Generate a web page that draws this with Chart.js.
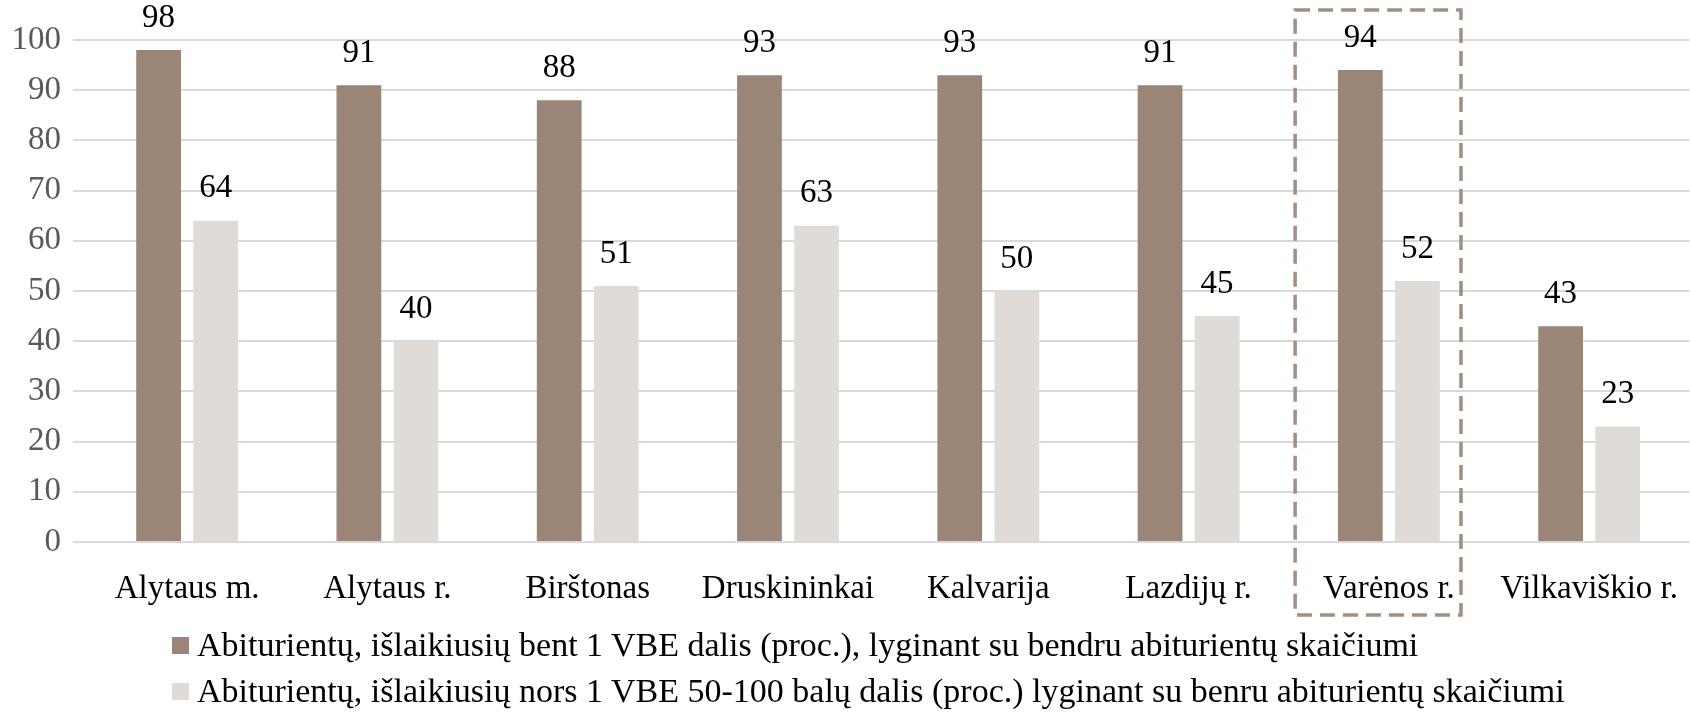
<!DOCTYPE html>
<html>
<head>
<meta charset="utf-8">
<script src="https://cdn.jsdelivr.net/npm/chart.js@4/dist/chart.umd.min.js"></script>
<style>
  html, body { margin: 0; padding: 0; background: #fff; }
  #wrap { position: relative; width: 1690px; height: 715px; overflow: hidden; }
  #plot { position: absolute; left: 0; top: 0; width: 1698px; height: 715px; }
  #legend { position: absolute; left: 172px; top: 622px; font-family: "Liberation Serif", serif; font-size: 34px; color: #000; }
  .row { height: 46px; display: flex; align-items: center; white-space: nowrap; }
  .box { width: 17px; height: 17px; margin-right: 8px; }
</style>
</head>
<body>
<div id="wrap">
  <div id="plot"><canvas id="chart"></canvas></div>
  <div id="legend"></div>
</div>
<script>
// chart data
const categories = ['Alytaus m.', 'Alytaus r.', 'Birštonas', 'Druskininkai', 'Kalvarija', 'Lazdijų r.', 'Varėnos r.', 'Vilkaviškio r.'];
const passedAny = [98, 91, 88, 93, 93, 91, 94, 43];
const passed50to100 = [64, 40, 51, 63, 50, 45, 52, 23];
const seriesNames = [
  'Abiturientų, išlaikiusių bent 1 VBE dalis (proc.), lyginant su bendru abiturientų skaičiumi',
  'Abiturientų, išlaikiusių nors 1 VBE 50-100 balų dalis (proc.) lyginant su benru abiturientų skaičiumi'
];
const yTicks = [0, 10, 20, 30, 40, 50, 60, 70, 80, 90, 100];
const highlightIndex = 6; // Varėnos r.

const colors = ['#9B8577', '#E0DBD7'];
const fontFamily = '"Liberation Serif", serif';

// value labels above every bar
const valueLabels = {
  id: 'valueLabels',
  afterDatasetsDraw(chart) {
    const ctx = chart.ctx;
    ctx.save();
    ctx.font = '33px ' + fontFamily;
    ctx.fillStyle = '#000';
    ctx.textAlign = 'center';
    ctx.textBaseline = 'middle';
    chart.data.datasets.forEach((ds, i) => {
      chart.getDatasetMeta(i).data.forEach((bar, j) => {
        ctx.fillText(ds.data[j], bar.x, bar.y - 32);
      });
    });
    ctx.restore();
  }
};

// dashed frame round the highlighted district
const highlightBox = {
  id: 'highlightBox',
  afterDraw(chart) {
    const x = chart.scales.x, y = chart.scales.y;
    const cx = x.getPixelForValue(highlightIndex);
    const cw = x.getPixelForValue(1) - x.getPixelForValue(0);
    const left = cx - 0.468 * cw;
    const right = cx + 0.36 * cw;
    const top = y.getPixelForValue(106);
    const bottom = chart.chartArea.bottom + 73;
    const ctx = chart.ctx;
    ctx.save();
    ctx.strokeStyle = '#A38E80';
    ctx.lineWidth = 3.5;
    ctx.setLineDash([15, 8]);
    ctx.strokeRect(left, top, right - left, bottom - top);
    ctx.restore();
  }
};

const ctx = document.getElementById('chart').getContext('2d');
const chart = new Chart(ctx, {
  type: 'bar',
  data: {
    labels: categories,
    datasets: [
      { label: seriesNames[0], data: passedAny, backgroundColor: colors[0] },
      { label: seriesNames[1], data: passed50to100, backgroundColor: colors[1] }
    ]
  },
  options: {
    responsive: true,
    maintainAspectRatio: false,
    animation: false,
    categoryPercentage: 0.57,
    barPercentage: 0.784,
    layout: { padding: { top: 40, right: 0, left: 0, bottom: 0 } },
    plugins: {
      legend: { display: false },
      tooltip: { enabled: false }
    },
    scales: {
      x: {
        grid: { display: false },
        border: { display: false },
        ticks: { color: '#000', font: { family: fontFamily, size: 33 }, padding: 20, maxRotation: 0, autoSkip: false },
        afterFit(scale) { scale.height = 173; }
      },
      y: {
        min: 0,
        max: 100,
        afterBuildTicks(scale) { scale.ticks = yTicks.map(v => ({ value: v })); },
        grid: { color: '#D9D9D9', lineWidth: 2, tickLength: 14 },
        border: { display: false },
        ticks: { color: '#595959', font: { family: fontFamily, size: 33 }, padding: 12 },
        afterFit(scale) { scale.width = 87; }
      }
    }
  },
  plugins: [valueLabels, highlightBox]
});

// legend, built from the datasets
const legendEl = document.getElementById('legend');
chart.data.datasets.forEach(ds => {
  const row = document.createElement('div');
  row.className = 'row';
  const box = document.createElement('span');
  box.className = 'box';
  box.style.background = ds.backgroundColor;
  const txt = document.createElement('span');
  txt.textContent = ds.label;
  row.appendChild(box);
  row.appendChild(txt);
  legendEl.appendChild(row);
});
</script>
</body>
</html>
